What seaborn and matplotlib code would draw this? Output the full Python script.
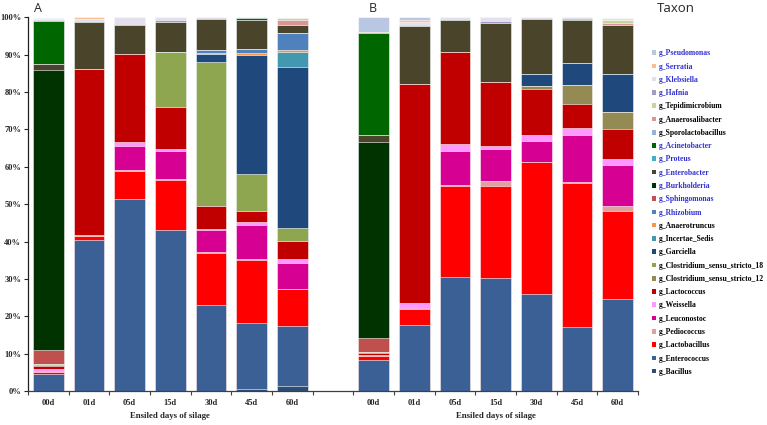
import numpy as np
import pandas as pd
import matplotlib
matplotlib.use("Agg")
import matplotlib.pyplot as plt
from matplotlib.patches import Patch
import seaborn as sns

# categories: panel A days, an empty slot, panel B days
days = ['00d', '01d', '05d', '15d', '30d', '45d', '60d']
cat_ids = ['A' + d for d in days] + ['B' + d for d in days]
order = ['A' + d for d in days] + ['gap'] + ['B' + d for d in days]
tick_labels = days + [''] + days

# relative abundance (%), A 00d..60d then B 00d..60d
bacillus = [0, 0, 0, 0, 0, 0.5, 1.4, 0, 0, 0, 0, 0, 0, 0]
enterococcus = [4.5, 40.3, 51.3, 43.1, 23.0, 17.6, 16.1, 8.3, 17.7, 30.6, 30.3, 25.9, 17.0, 24.5]
lactobacillus = [0.6, 1.1, 7.7, 13.3, 14.0, 16.9, 9.7, 1.0, 4.3, 24.3, 24.5, 35.5, 38.7, 23.7]
pediococcus = [0.1, 0, 0.1, 0.2, 0.2, 0.2, 0, 0, 0, 0.2, 1.3, 0, 0.3, 1.3]
leuconostoc = [0.2, 0, 6.5, 7.5, 5.8, 9.3, 7.0, 0, 0.3, 9.2, 8.6, 5.6, 12.5, 11.0]
weissella = [0.4, 0.3, 0.9, 0.7, 0.4, 0.7, 1.0, 0.3, 1.2, 1.7, 0.9, 1.4, 1.8, 1.5]
lactococcus = [1.0, 44.5, 23.6, 11.3, 6.1, 3.1, 4.9, 0.6, 58.6, 24.8, 17.0, 12.3, 6.5, 8.0]
clostridium_12 = [0.2, 0, 0, 0, 0, 0, 0, 0.3, 0, 0, 0, 0.9, 5.0, 4.7]
clostridium_18 = [0.2, 0, 0, 14.5, 38.6, 9.8, 3.4, 0, 0, 0, 0, 0, 0, 0]
garciella = [0, 0, 0, 0, 2.0, 31.9, 43.3, 0, 0, 0, 0, 3.1, 6.1, 10.1]
incertae_sedis = [0, 0, 0, 0, 0, 0, 4.0, 0, 0, 0, 0, 0, 0, 0]
anaerotruncus = [0, 0, 0, 0, 0.4, 0.4, 0.4, 0, 0, 0, 0, 0, 0, 0]
rhizobium = [0, 0, 0, 0, 0.8, 1.0, 4.6, 0, 0, 0, 0, 0, 0, 0]
sphingomonas = [3.8, 0, 0, 0, 0, 0, 0, 3.8, 0, 0, 0, 0, 0, 0]
burkholderia = [74.9, 0, 0, 0, 0, 0, 0, 52.2, 0, 0, 0, 0, 0, 0]
enterobacter = [1.5, 12.6, 7.8, 8.2, 8.2, 8.0, 2.2, 2.0, 15.6, 8.5, 16.0, 14.8, 11.4, 13.1]
proteus = [0, 0, 0, 0, 0, 0, 0, 0, 0, 0, 0, 0, 0, 0]
acinetobacter = [11.7, 0, 0, 0, 0, 0.3, 0, 27.4, 0, 0, 0, 0, 0.3, 0]
sporolactobacillus = [0, 0, 0, 0, 0, 0, 0, 0, 0, 0, 0, 0, 0, 0]
anaerosalibacter = [0, 0, 0, 0, 0, 0, 1.2, 0, 0, 0, 0, 0, 0, 0.7]
tepidimicrobium = [0, 0, 0, 0, 0, 0, 0.7, 0, 0, 0, 0, 0, 0, 0.6]
hafnia = [0, 0, 0.4, 0.5, 0, 0, 0, 0, 0, 0, 0.4, 0, 0, 0]
klebsiella = [0.4, 0.7, 1.7, 0.7, 0.5, 0.3, 0, 0, 1.1, 0.7, 1.0, 0.5, 0.5, 0.7]
serratia = [0, 0.5, 0, 0, 0, 0, 0, 0.3, 0.6, 0, 0, 0, 0, 0]
pseudomonas = [0.4, 0, 0, 0, 0, 0, 0, 3.8, 0.6, 0, 0, 0, 0, 0]

# stacking order, bottom to top: (label, values, colour, label in blue)
taxa = [
    ('g_Bacillus', bacillus, '#2C4D75', False),
    ('g_Enterococcus', enterococcus, '#3A6096', False),
    ('g_Lactobacillus', lactobacillus, '#FF0000', False),
    ('g_Pediococcus', pediococcus, '#E0A0A0', False),
    ('g_Leuconostoc', leuconostoc, '#D60093', False),
    ('g_Weissella', weissella, '#FF99FF', False),
    ('g_Lactococcus', lactococcus, '#C00000', False),
    ('g_Clostridium_sensu_stricto_12', clostridium_12, '#948A54', False),
    ('g_Clostridium_sensu_stricto_18', clostridium_18, '#8DA64F', False),
    ('g_Garciella', garciella, '#1F497D', False),
    ('g_Incertae_Sedis', incertae_sedis, '#4198AF', False),
    ('g_Anaerotruncus', anaerotruncus, '#F79646', False),
    ('g_Rhizobium', rhizobium, '#4F81BD', True),
    ('g_Sphingomonas', sphingomonas, '#C0504D', True),
    ('g_Burkholderia', burkholderia, '#003300', True),
    ('g_Enterobacter', enterobacter, '#4A452A', True),
    ('g_Proteus', proteus, '#4BACC6', True),
    ('g_Acinetobacter', acinetobacter, '#006600', True),
    ('g_Sporolactobacillus', sporolactobacillus, '#95B3D7', False),
    ('g_Anaerosalibacter', anaerosalibacter, '#DA9694', False),
    ('g_Tepidimicrobium', tepidimicrobium, '#C4D79B', False),
    ('g_Hafnia', hafnia, '#A09CC4', True),
    ('g_Klebsiella', klebsiella, '#E4DFEC', True),
    ('g_Serratia', serratia, '#FABF8F', True),
    ('g_Pseudomonas', pseudomonas, '#B9C7E2', True),
]

sns.set_style('white')
serif = ['Liberation Serif', 'DejaVu Serif']

fig = plt.figure(figsize=(7.67, 4.25), dpi=100)
ax = fig.add_axes([28 / 767, 34 / 425, 610 / 767, 373.7 / 425])

cum = np.cumsum(np.array([t[1] for t in taxa]), axis=0)
# draw cumulative bars from the top of the stack down
for i in range(len(taxa) - 1, -1, -1):
    df = pd.DataFrame({'cat': cat_ids, 'val': cum[i]})
    sns.barplot(data=df, x='cat', y='val', order=order, color=taxa[i][2],
                saturation=1, width=0.76, errorbar=None,
                edgecolor='white', linewidth=0.4, ax=ax)

ax.set_xlim(-0.5, 14.5)
ax.set_ylim(0, 100)
ax.set_xlabel('')
ax.set_ylabel('')
ax.set_xticks(range(15))
ax.set_xticklabels(tick_labels, fontfamily=serif, fontweight='bold', fontsize=6)
ax.set_xticks(np.arange(-0.5, 15, 1), minor=True)
ax.tick_params(axis='x', which='major', length=0, pad=5.5)
ax.tick_params(axis='x', which='minor', length=3, direction='out', width=0.8,
               color='#404040', bottom=True)
ax.set_yticks(range(0, 101, 10))
ax.set_yticklabels([f'{v}%' for v in range(0, 101, 10)],
                   fontfamily=serif, fontweight='bold', fontsize=6)
ax.tick_params(axis='y', length=3, direction='out', width=0.8, left=True, pad=2)
for s in ['top', 'right']:
    ax.spines[s].set_visible(False)
ax.spines['left'].set_color('#202020')
ax.spines['bottom'].set_color('#404040')
ax.spines['left'].set_linewidth(0.9)
ax.spines['bottom'].set_linewidth(0.9)

for xc in [3, 11]:
    ax.text(xc, -0.068, 'Ensiled days of silage', transform=ax.get_xaxis_transform(),
            ha='center', va='center', fontfamily=serif, fontweight='bold', fontsize=6.3)

fig.text(38 / 767, 1 - 9 / 425, 'A', ha='center', va='center', fontsize=9,
         fontfamily='Open Sans')
fig.text(373 / 767, 1 - 9 / 425, 'B', ha='center', va='center', fontsize=9,
         fontfamily='Open Sans')
fig.text(657 / 767, 1 - 9 / 425, 'Taxon', ha='left', va='center', fontsize=9.5,
         fontfamily='Open Sans')

legend_taxa = taxa[::-1]
handles = [Patch(facecolor=t[2], edgecolor='none') for t in legend_taxa]
labels = [t[0] for t in legend_taxa]
label_colors = ['#3030D0' if t[3] else 'black' for t in legend_taxa]
fig.legend(handles, labels, loc='upper left', bbox_to_anchor=(648 / 767, 1 - 45.5 / 425),
           frameon=False, borderpad=0, handlelength=0.55, handleheight=0.55,
           handletextpad=0.35, labelspacing=0.69, labelcolor=label_colors,
           prop={'family': serif, 'weight': 'bold', 'size': 5.5})

fig.savefig('out.png', dpi=100)
